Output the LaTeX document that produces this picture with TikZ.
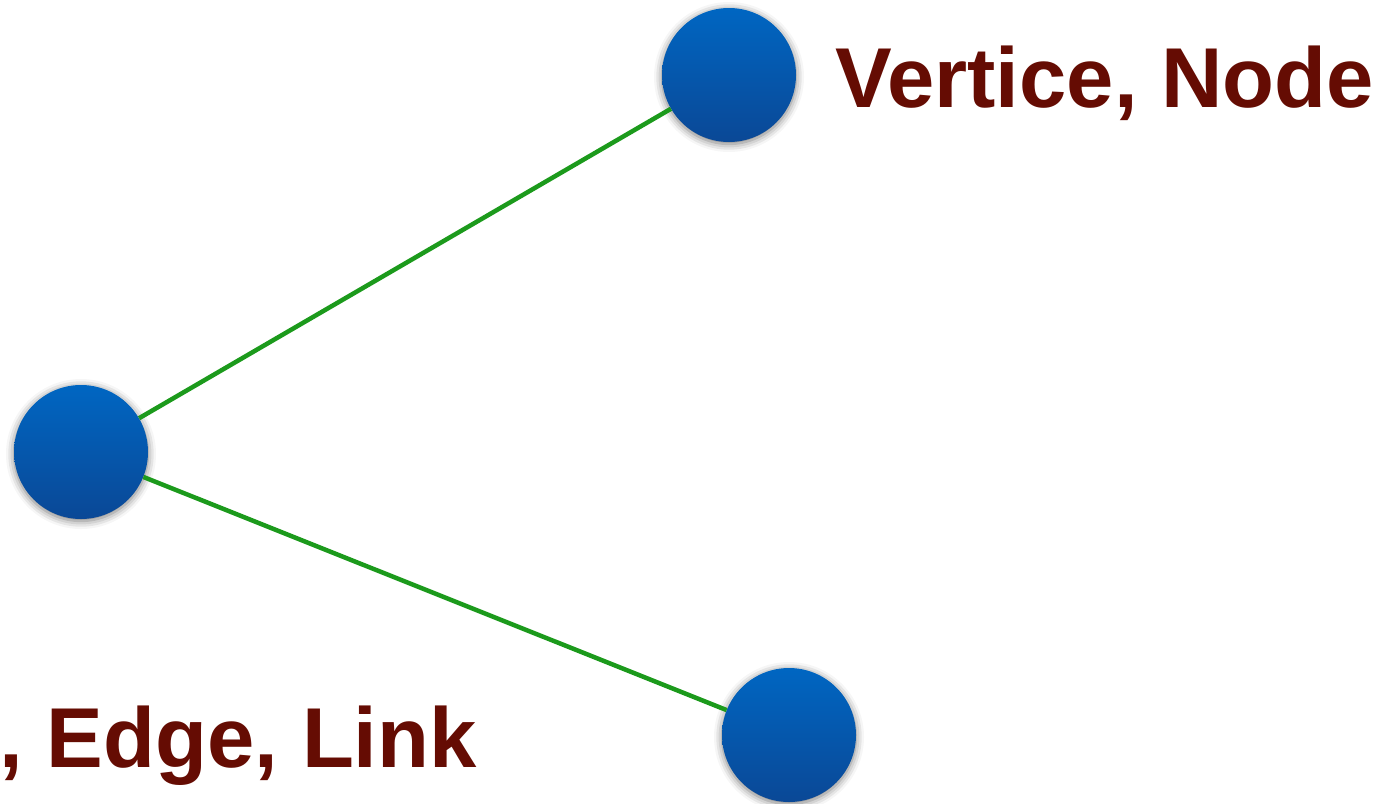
\documentclass[tikz,border=0pt]{standalone}
\usepackage{fontspec}
\setmainfont{Liberation Sans}
\usetikzlibrary{shadows.blur}
\definecolor{vtop}{HTML}{0066C2}
\definecolor{vbot}{HTML}{0A4896}
\definecolor{edgegreen}{HTML}{1C9A1C}
\definecolor{labelred}{HTML}{650C03}
\begin{document}
\begin{tikzpicture}[x=1pt,y=-1pt,
    vertex/.style={circle,minimum size=134pt,inner sep=0pt,top color=vtop,bottom color=vbot,
        blur shadow={shadow xshift=0pt,shadow yshift=-2pt,shadow blur radius=8pt,shadow opacity=55,shadow scale=1}},
    link/.style={edgegreen,line width=4.5pt},
    lbl/.style={text=labelred,inner sep=0pt,font=\fontsize{85}{100}\selectfont\bfseries}]
    \useasboundingbox (0,0) rectangle (1383,803);
    \node[vertex] (left) at (81,452) {};
    \node[vertex] (top) at (729,75) {};
    \node[vertex] (bottom) at (789,735) {};
    \draw[link] (left) -- (top);
    \draw[link] (left) -- (bottom);
    \node[lbl,anchor=base west] (vname) at (835,107) {Vertice, Node};
    \node[lbl,anchor=base east] (ename) at (477,767) {, Edge, Link};
\end{tikzpicture}
\end{document}
